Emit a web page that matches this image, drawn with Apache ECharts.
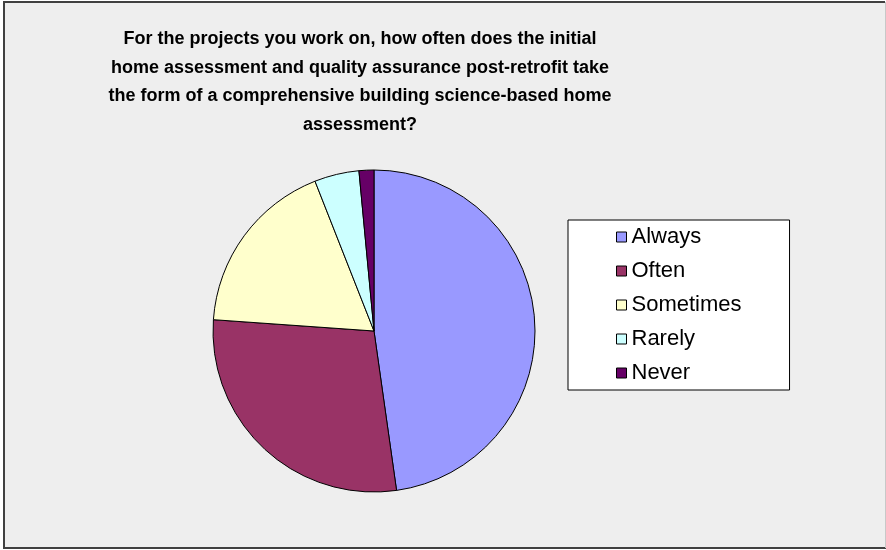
<!DOCTYPE html>
<html>
<head>
<meta charset="utf-8">
<script src="https://cdn.jsdelivr.net/npm/echarts@6/dist/echarts.min.js"></script>
<style>
    html, body { margin: 0; padding: 0; background: #ffffff; }
    #chart { width: 886px; height: 550px; }
</style>
</head>
<body>
<div id="chart"></div>
<script>
const titleText = 'For the projects you work on, how often does the initial\nhome assessment and quality assurance post-retrofit take\nthe form of a comprehensive building science-based home\nassessment?';
const categories = ['Always', 'Often', 'Sometimes', 'Rarely', 'Never'];
const counts = [32, 19, 12, 3, 1];
const colors = ['#9999ff', '#993366', '#ffffcc', '#ccffff', '#660066'];

const chart = echarts.init(document.getElementById('chart'));

chart.setOption({
    animation: false,
    backgroundColor: '#ffffff',
    color: colors,
    graphic: [
        { type: 'rect', z: -10, shape: { x: 4, y: 2, width: 881, height: 546 }, style: { fill: '#eeeeee' } },
        { type: 'line', z: -9, shape: { x1: 3, y1: 2, x2: 885, y2: 2 }, style: { stroke: '#404040', lineWidth: 2 } },
        { type: 'line', z: -9, shape: { x1: 4, y1: 1, x2: 4, y2: 549 }, style: { stroke: '#404040', lineWidth: 2 } },
        { type: 'line', z: -9, shape: { x1: 3, y1: 548, x2: 886, y2: 548 }, style: { stroke: '#404040', lineWidth: 2 } },
        { type: 'line', z: -9, shape: { x1: 885.5, y1: 2, x2: 885.5, y2: 548 }, style: { stroke: '#c8c8c8', lineWidth: 1 } }
    ],
    title: {
        text: titleText,
        left: 360,
        top: 25,
        textAlign: 'center',
        padding: 0,
        textStyle: {
            fontFamily: 'Liberation Sans, Arial, sans-serif',
            fontSize: 18,
            fontWeight: 'bold',
            color: '#000000',
            lineHeight: 28.5
        }
    },
    legend: {
        orient: 'vertical',
        left: 568,
        top: 220,
        data: categories,
        icon: 'rect',
        itemWidth: 10,
        itemHeight: 10,
        itemGap: 10,
        padding: [5, 48, 5, 48],
        backgroundColor: '#ffffff',
        borderColor: '#000000',
        borderWidth: 1,
        borderRadius: 0,
        selectedMode: false,
        itemStyle: { borderColor: '#000000', borderWidth: 1 },
        textStyle: {
            fontFamily: 'Liberation Sans, Arial, sans-serif',
            fontSize: 22,
            color: '#000000',
            lineHeight: 24
        }
    },
    series: [{
        type: 'pie',
        center: [374, 331],
        radius: 161,
        startAngle: 90,
        clockwise: true,
        label: { show: false },
        labelLine: { show: false },
        emphasis: { disabled: true },
        itemStyle: { borderColor: '#000000', borderWidth: 1 },
        data: categories.map((name, i) => ({ name: name, value: counts[i] }))
    }]
});
</script>
</body>
</html>
